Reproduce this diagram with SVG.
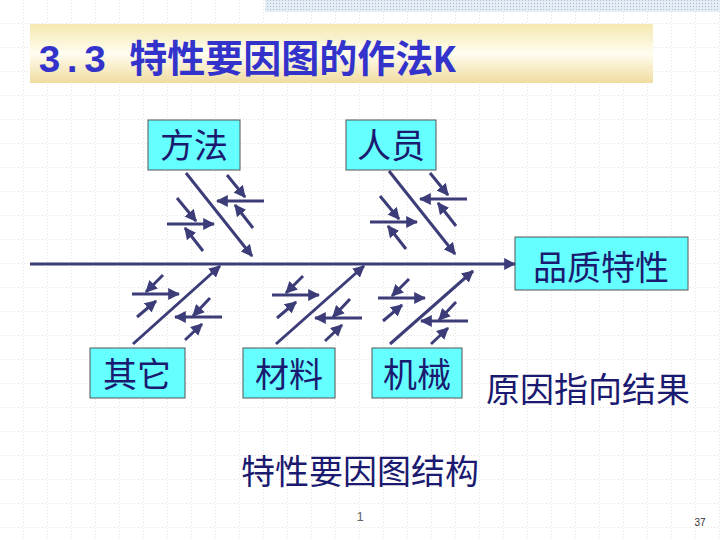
<svg xmlns="http://www.w3.org/2000/svg" width="720" height="540" viewBox="0 0 720 540">
<defs>
<pattern id="grid" width="24" height="24" patternUnits="userSpaceOnUse">
<path d="M24 0V24M0 24H24" fill="none" stroke="#c8c8c8" stroke-width="1" stroke-dasharray="1,2"/>
</pattern>
<pattern id="hatch" width="3" height="3" patternUnits="userSpaceOnUse">
<rect width="3" height="3" fill="#e4ecf4"/><rect width="1" height="1" fill="#a9bcd4"/>
</pattern>
<linearGradient id="tg" x1="0" y1="0" x2="0" y2="1">
<stop offset="0" stop-color="#f5e8b0"/><stop offset="0.5" stop-color="#fffdf0"/><stop offset="1" stop-color="#f0dca0"/>
</linearGradient>
<marker id="ah" viewBox="0 0 10 10" refX="9" refY="5" markerWidth="4" markerHeight="4" orient="auto" markerUnits="strokeWidth">
<path d="M0 0L10 5L0 10z" fill="#3c3c78"/>
</marker>
<g id="upper" stroke="#3c3c78" stroke-width="3" marker-end="url(#ah)">
<line x1="186" y1="173" x2="252" y2="256"/>
<line x1="264" y1="201" x2="217" y2="201"/>
<line x1="227" y1="175" x2="245" y2="197"/>
<line x1="253" y1="228" x2="235" y2="205"/>
<line x1="167" y1="224" x2="214" y2="224"/>
<line x1="177" y1="198" x2="196" y2="221"/>
<line x1="203" y1="251" x2="185" y2="228"/>
</g>
<g id="lower" stroke="#3c3c78" stroke-width="3" marker-end="url(#ah)">
<line x1="132" y1="294" x2="179" y2="294"/>
<line x1="163" y1="275" x2="146" y2="292"/>
<line x1="137" y1="317" x2="156" y2="301"/>
<line x1="222" y1="317" x2="175" y2="317"/>
<line x1="210" y1="298" x2="193" y2="316"/>
<line x1="185" y1="340" x2="202" y2="324"/>
</g>
</defs>
<style>
.c line{stroke:#3c3c78;stroke-width:3;marker-end:url(#ah)}
.box{fill:#66ffff;stroke:#555;stroke-width:1}
.lbl{font-family:"Noto Sans CJK SC","Liberation Serif",serif;font-size:34px;fill:#1a1a70;text-anchor:middle}
</style>
<rect width="720" height="540" fill="#fff"/>
<rect width="720" height="540" fill="url(#grid)"/>
<rect x="265" y="0" width="455" height="12" fill="url(#hatch)"/>
<rect x="30" y="24" width="623" height="59" fill="url(#tg)"/>
<text x="38" y="72" font-family="'Liberation Mono','Noto Sans CJK SC',monospace" font-size="38" font-weight="bold" fill="#3333cc">3.3 特性要因图的作法K</text>
<g id="n-fangfa"><rect class="box" x="148" y="120" width="92" height="50"/><text class="lbl" x="194" y="158">方法</text></g>
<g id="n-renyuan"><rect class="box" x="346" y="120" width="90" height="50"/><text class="lbl" x="391" y="158">人员</text></g>
<g id="n-pinzhi"><rect class="box" x="515" y="237" width="173" height="53"/><text class="lbl" x="601" y="280">品质特性</text></g>
<g id="n-qita"><rect class="box" x="90" y="348" width="95" height="50"/><text class="lbl" x="137" y="387">其它</text></g>
<g id="n-cailiao"><rect class="box" x="243" y="348" width="92" height="50"/><text class="lbl" x="289" y="387">材料</text></g>
<g id="n-jixie"><rect class="box" x="372" y="348" width="90" height="50"/><text class="lbl" x="417" y="387">机械</text></g>
<g id="connectors" class="c">
<line x1="30" y1="264" x2="515" y2="264"/>
<use href="#upper"/>
<use href="#upper" transform="translate(203,-2)"/>
<use href="#lower"/>
<line x1="133" y1="344" x2="220" y2="266"/>
<use href="#lower" transform="translate(140,1)"/>
<line x1="276" y1="344" x2="364" y2="266"/>
<use href="#lower" transform="translate(246,4)"/>
<line x1="390" y1="344" x2="473" y2="271"/>
</g>
<text class="lbl" x="588" y="402" font-size="38">原因指向结果</text>
<text class="lbl" x="360" y="484" font-size="38">特性要因图结构</text>
<text x="360" y="521" font-family="Liberation Sans,sans-serif" font-size="13" fill="#666" text-anchor="middle">1</text>
<text x="700" y="526" font-family="Liberation Sans,sans-serif" font-size="10" fill="#333" text-anchor="middle">37</text>
</svg>
